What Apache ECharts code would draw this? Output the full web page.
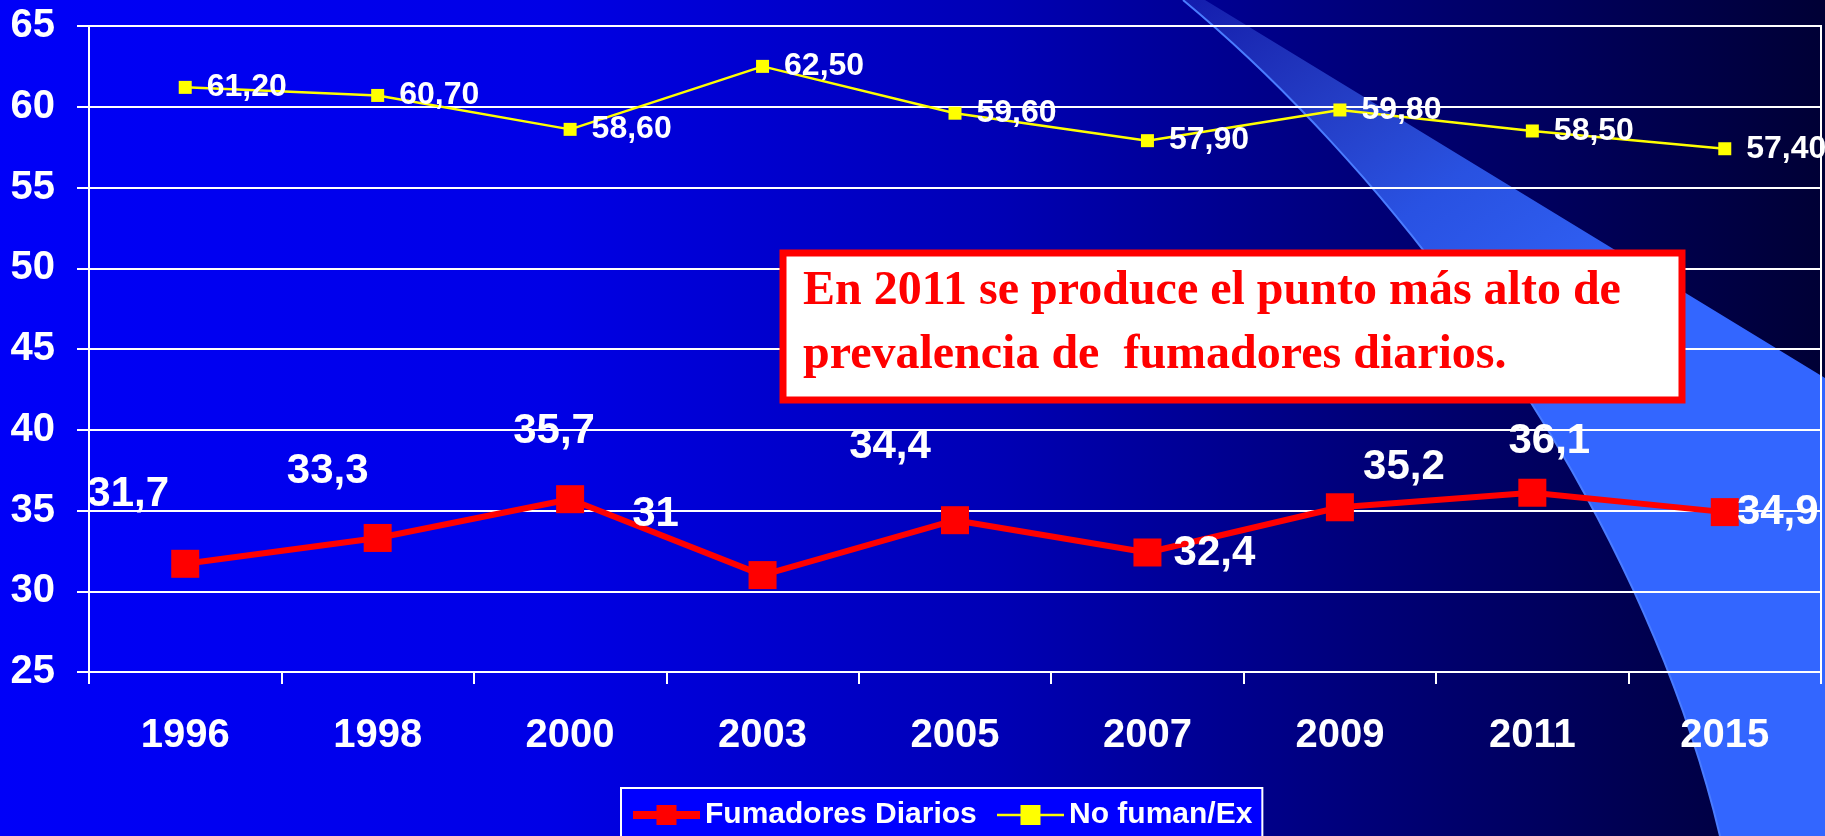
<!DOCTYPE html>
<html>
<head>
<meta charset="utf-8">
<title>Fumadores diarios</title>
<script src="https://cdn.jsdelivr.net/npm/echarts@6/dist/echarts.min.js"></script>
<style>
  html, body { margin: 0; padding: 0; background: #0000f0; }
  #chart { width: 1825px; height: 836px; }
</style>
</head>
<body>
<div id="chart"></div>
<script>
// data
const years = ['1996', '1998', '2000', '2003', '2005', '2007', '2009', '2011', '2015'];
const fumadoresDiarios = [31.7, 33.3, 35.7, 31, 34.4, 32.4, 35.2, 36.1, 34.9];
const noFumanEx = [61.2, 60.7, 58.6, 62.5, 59.6, 57.9, 59.8, 58.5, 57.4];
const yMin = 25;
const yMax = 65;
const yStep = 5;

// where each red value label sits relative to its marker (px)
const redLabelOffsets = [[-57, -69], [-50, -67], [-16, -68], [-107, -61], [-65, -74], [67, 1], [64, -40], [17, -51], [53, 0]];

const sans = '"Liberation Sans", Arial, sans-serif';
const serif = '"Liberation Serif", "Times New Roman", serif';

// swoosh edge: cubic bezier sampled into points (decoration only)
function swooshCurve() {
  const p0 = [1183, 0], p1 = [1400, 180], p2 = [1640, 500], p3 = [1720, 836];
  const pts = [];
  for (let i = 0; i <= 40; i++) {
    const t = i / 40, u = 1 - t;
    pts.push([
      u * u * u * p0[0] + 3 * u * u * t * p1[0] + 3 * u * t * t * p2[0] + t * t * t * p3[0],
      u * u * u * p0[1] + 3 * u * u * t * p1[1] + 3 * u * t * t * p2[1] + t * t * t * p3[1]
    ]);
  }
  return pts;
}
const curve = swooshCurve();

const chart = echarts.init(document.getElementById('chart'));

chart.setOption({
  animation: false,
  backgroundColor: 'transparent',
  textStyle: { fontFamily: sans },
  graphic: [
    {
      type: 'rect',
      z: -100,
      silent: true,
      shape: { x: 0, y: 0, width: 1825, height: 836 },
      style: {
        fill: new echarts.graphic.LinearGradient(0, 0, 1, 0, [
          { offset: 0, color: '#0000f8' },
          { offset: 0.3, color: '#0000e6' },
          { offset: 0.55, color: '#0000b4' },
          { offset: 0.75, color: '#000078' },
          { offset: 1, color: '#000035' }
        ])
      }
    },
    {
      type: 'polygon',
      z: -90,
      silent: true,
      shape: { points: curve.concat([[1825, 836], [1825, 378], [1205, 0]]) },
      style: {
        fill: new echarts.graphic.LinearGradient(1200, 0, 1520, 430, [
          { offset: 0, color: 'rgba(80,120,255,0.25)' },
          { offset: 0.55, color: 'rgba(51,102,255,0.8)' },
          { offset: 1, color: '#3366ff' }
        ], true)
      }
    },
    {
      type: 'polyline',
      z: -80,
      silent: true,
      shape: { points: curve },
      style: { stroke: '#4a7cff', lineWidth: 2, fill: null }
    },
    {
      type: 'rect',
      z: 100,
      shape: { x: 783, y: 253, width: 899, height: 147 },
      style: { fill: '#ffffff', stroke: '#ff0000', lineWidth: 7 }
    },
    {
      type: 'text',
      z: 101,
      x: 803,
      y: 292,
      style: {
        text: 'En 2011 se produce el punto más alto de',
        font: 'bold 48px ' + serif,
        fill: '#ff0000',
        verticalAlign: 'middle'
      }
    },
    {
      type: 'text',
      z: 101,
      x: 803,
      y: 356,
      style: {
        text: 'prevalencia de  fumadores diarios.',
        font: 'bold 48px ' + serif,
        fill: '#ff0000',
        verticalAlign: 'middle'
      }
    }
  ],
  legend: {
    data: [
      { name: 'Fumadores Diarios', lineStyle: { width: 8 } },
      { name: 'No fuman/Ex', lineStyle: { width: 2.5 } }
    ],
    left: 621,
    top: 788,
    padding: [12, 10, 12, 8],
    itemWidth: 67,
    itemHeight: 25,
    itemGap: 19,
    backgroundColor: '#0000ff',
    borderColor: '#ffffff',
    borderWidth: 2,
    borderRadius: 0,
    textStyle: { color: '#ffffff', fontSize: 30, fontWeight: 'bold', fontFamily: sans }
  },
  grid: {
    left: 89,
    right: 4,
    top: 26,
    bottom: 164,
    show: true,
    borderColor: '#ffffff',
    borderWidth: 2
  },
  xAxis: {
    type: 'category',
    data: years,
    boundaryGap: true,
    axisLine: { lineStyle: { color: '#ffffff', width: 2 } },
    axisTick: { show: true, length: 12, lineStyle: { color: '#ffffff', width: 2 } },
    axisLabel: { color: '#ffffff', fontSize: 40, fontWeight: 'bold', margin: 44 }
  },
  yAxis: {
    type: 'value',
    min: yMin,
    max: yMax,
    interval: yStep,
    axisLine: { show: true, lineStyle: { color: '#ffffff', width: 2 } },
    axisTick: { show: true, length: 12, lineStyle: { color: '#ffffff', width: 2 } },
    splitLine: { lineStyle: { color: '#ffffff', width: 2 } },
    axisLabel: { color: '#ffffff', fontSize: 40, fontWeight: 'bold', margin: 34 }
  },
  series: [
    {
      name: 'Fumadores Diarios',
      type: 'line',
      data: fumadoresDiarios.map(function (v, i) {
        return { value: v, label: { offset: redLabelOffsets[i] } };
      }),
      symbol: 'rect',
      symbolSize: 28,
      color: '#ff0000',
      lineStyle: { color: '#ff0000', width: 6 },
      itemStyle: { color: '#ff0000' },
      label: {
        show: true,
        position: 'inside',
        color: '#ffffff',
        fontSize: 42,
        fontWeight: 'bold',
        fontFamily: sans,
        formatter: function (p) { return String(p.value).replace('.', ','); }
      },
      z: 3
    },
    {
      name: 'No fuman/Ex',
      type: 'line',
      data: noFumanEx,
      symbol: 'rect',
      symbolSize: 13,
      color: '#ffff00',
      lineStyle: { color: '#ffff00', width: 2.5 },
      itemStyle: { color: '#ffff00' },
      label: {
        show: true,
        position: 'right',
        distance: 15,
        color: '#ffffff',
        fontSize: 32,
        fontWeight: 'bold',
        fontFamily: sans,
        formatter: function (p) { return p.value.toFixed(2).replace('.', ','); }
      },
      z: 3
    }
  ]
});

window.addEventListener('resize', function () {
  chart.resize();
});
</script>
</body>
</html>
